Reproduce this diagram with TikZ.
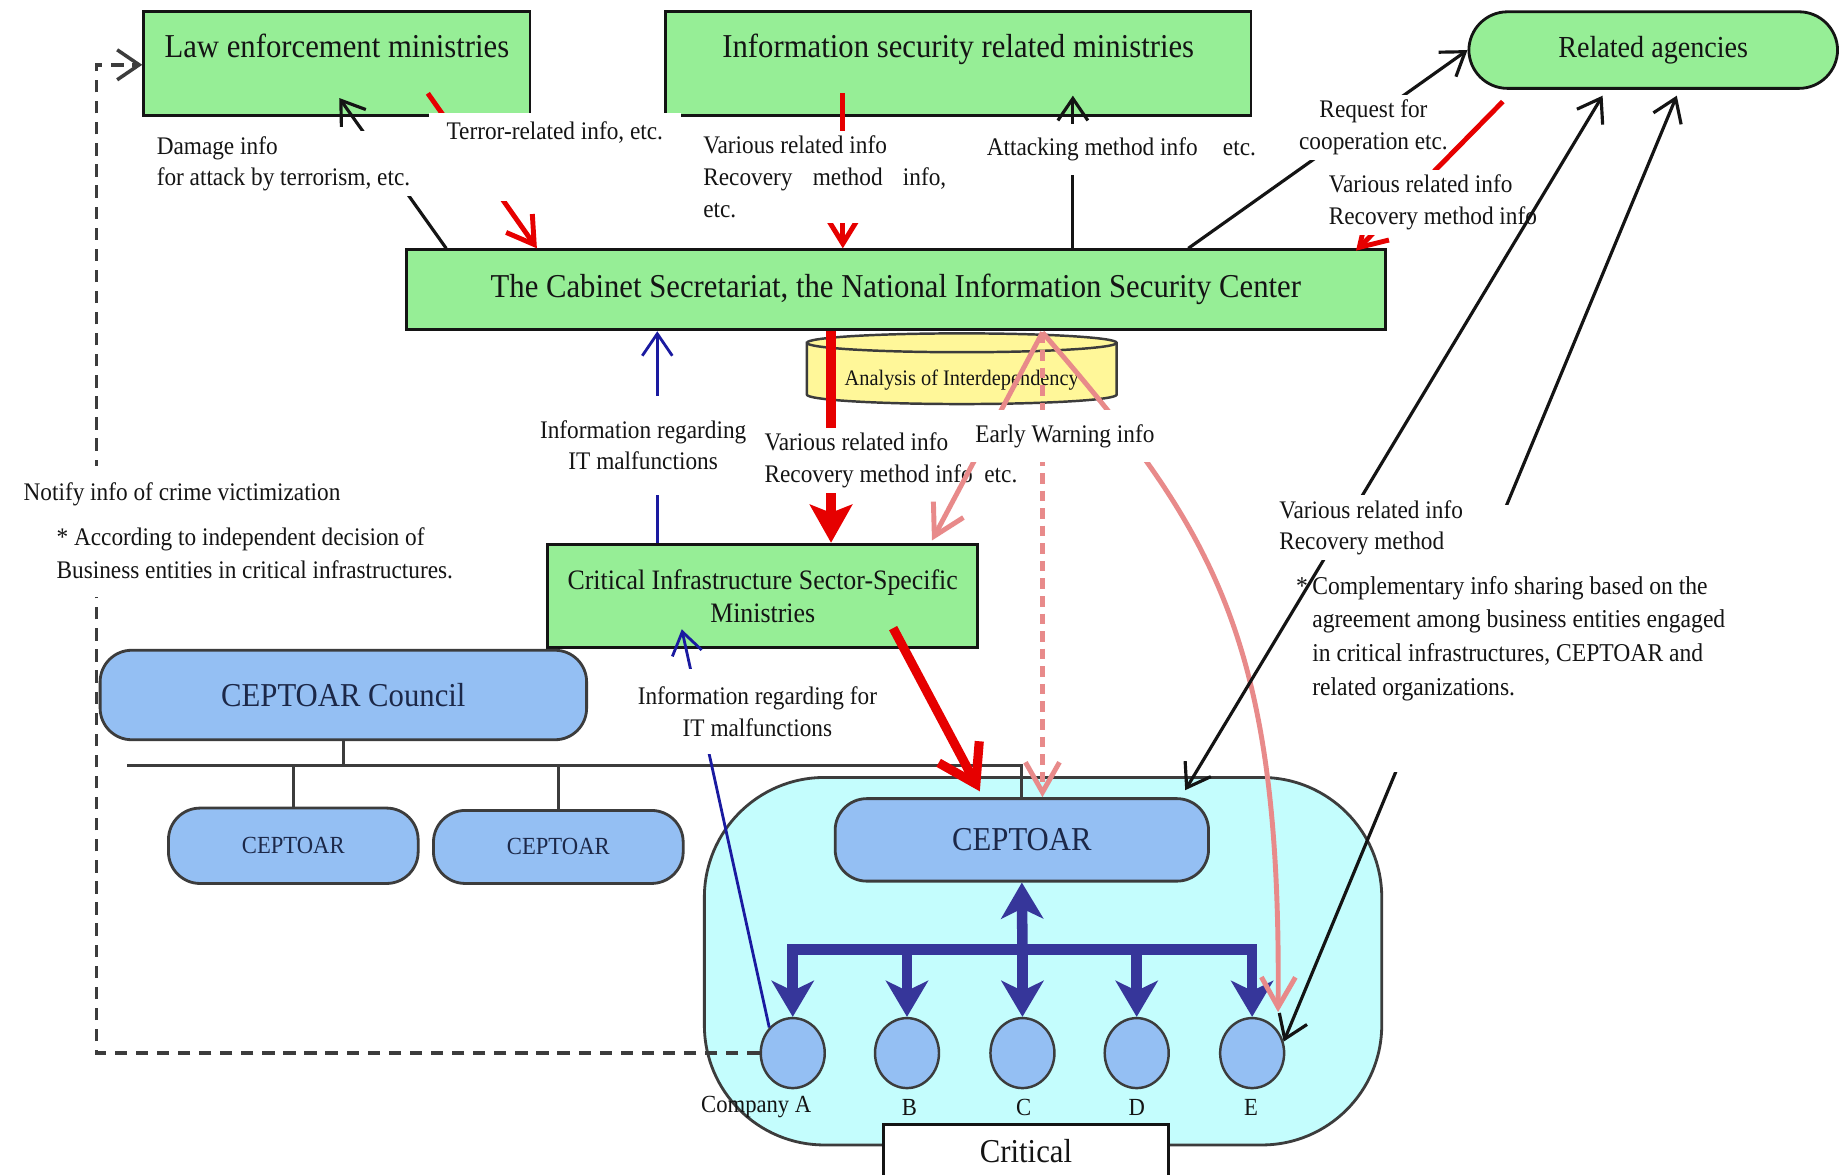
\documentclass[tikz,border=0pt]{standalone}
\usepackage{fontspec}
\setmainfont{Liberation Serif}[FakeStretch=0.92]
\usepackage{xcolor}
\usetikzlibrary{arrows.meta,positioning,calc,shapes.geometric}
\definecolor{tinta}{HTML}{141414}
\definecolor{gris}{HTML}{3C3C3C}
\definecolor{verde}{HTML}{96EE96}
\definecolor{azul}{HTML}{94BFF3}
\definecolor{cian}{HTML}{C4FDFD}
\definecolor{amarillo}{HTML}{FFF799}
\definecolor{marino}{HTML}{36369A}
\definecolor{textoAzul}{HTML}{1C2848}
\definecolor{rojo}{HTML}{E60000}
\definecolor{rosa}{HTML}{E88A8A}
\definecolor{azulLinea}{HTML}{1A1AA0}

\begin{document}
\begin{tikzpicture}[x=0.01178cm,y=-0.01178cm,
    mini/.style={draw=tinta,fill=verde,line width=0.8pt,align=center,
                 font=\fontsize{9.5}{11}\selectfont\color{tinta}},
    cept/.style={draw=gris,fill=azul,rounded corners=9pt,line width=0.8pt,
                 font=\fontsize{9.5}{11}\selectfont\color{textoAzul}},
    emp/.style={ellipse,draw=gris,fill=azul,line width=0.7pt,inner sep=0pt,
                minimum width=0.64cm,minimum height=0.70cm},
    etiq/.style={fill=white,inner sep=1.5pt,align=left,
                 font=\fontsize{7.2}{9}\selectfont\color{tinta}},
    negro/.style={draw=tinta,line width=0.9pt},
    rojoF/.style={draw=rojo,line width=1.4pt,-{Straight Barb[length=2.6mm,width=3.2mm]}},
    rojoG/.style={draw=rojo,line width=2.6pt},
    rosaF/.style={draw=rosa,line width=1.4pt,-{Straight Barb[length=3mm,width=3.4mm]}},
    azulF/.style={draw=azulLinea,line width=0.8pt,->},
    troncal/.style={draw=marino,line width=3pt,-{Stealth[length=0.36cm,width=0.42cm,inset=0.1cm]}},
    linea/.style={draw=gris,line width=0.9pt},
    >={Straight Barb[length=2.2mm,width=3mm]}]
  \fill[white] (0,0) rectangle (1568,997);
  \useasboundingbox (0,0) rectangle (1568,997);

  \node[draw=gris,fill=cian,line width=0.8pt,rounded corners=1.2cm,
        minimum width=6.774cm,minimum height=3.675cm] (zona) at (885.5,816) {};

  \node[mini,minimum width=3.864cm,minimum height=1.037cm,text depth=0.35cm]
    (ley) at (286,54) {Law enforcement ministries};
  \node[mini,minimum width=5.855cm,minimum height=1.037cm,text depth=0.35cm]
    (infosec) at (813.5,54) {Information security related ministries};
  \node[mini,rounded corners=11pt,font=\fontsize{8.7}{10}\selectfont\color{tinta},
        minimum width=3.687cm,minimum height=0.766cm] (agencias) at (1403.5,42.5) {Related agencies};

  \filldraw[fill=amarillo,draw=gris,line width=0.7pt]
    (685,291) -- (685,335) arc[start angle=180,end angle=0,x radius=131.5,y radius=8]
    -- (948,291) arc[start angle=0,end angle=-180,x radius=131.5,y radius=8] -- cycle;
  \draw[gris,line width=0.7pt] (685,291) arc[start angle=180,end angle=0,x radius=131.5,y radius=8];
  \node[font=\fontsize{6.3}{7}\selectfont\color{tinta}] (cil) at (816.5,323) {Analysis of Interdependency};

  \node[mini,minimum width=9.789cm,minimum height=0.801cm] (cab) at (760.5,246)
    {The Cabinet Secretariat, the National Information Security Center};
  \node[mini,font=\fontsize{8}{9.4}\selectfont\color{tinta},minimum width=4.3cm,
        minimum height=1.037cm] (sector) at (647.5,506)
    {Critical Infrastructure Sector-Specific\\Ministries};

  \node[cept,minimum width=4.865cm,minimum height=0.895cm] (consejo) at (291.5,590) {CEPTOAR Council};
  \node[cept,font=\fontsize{7}{8}\selectfont\color{textoAzul},minimum width=2.497cm,
        minimum height=0.754cm] (c1) at (249,718) {CEPTOAR};
  \node[cept,font=\fontsize{7}{8}\selectfont\color{textoAzul},minimum width=2.497cm,
        minimum height=0.73cm] (c2) at (474,719) {CEPTOAR};
  \node[cept,minimum width=3.734cm,minimum height=0.825cm] (ceptoar) at (867.5,713) {CEPTOAR};

  \foreach \letra/\x in {A/673,B/770,C/868,D/965,E/1063}
    \node[emp] (e\letra) at (\x,894) {};
  \node[font=\fontsize{7}{8}\selectfont\color{tinta}] (nA) at (642,940) {Company A};
  \foreach \letra/\x in {B/772,C/869,D/965,E/1062}
    \node[font=\fontsize{7}{8}\selectfont\color{tinta}] (n\letra) at (\x,940) {\letra};

  \node[draw=tinta,fill=white,line width=0.8pt,minimum width=2.851cm,minimum height=0.52cm,
        font=\fontsize{9.5}{11}\selectfont\color{tinta}] (critico) at (871,977) {Critical};

  \coordinate (bus) at (108,650);
  \draw[linea] (bus) -- (bus -| ceptoar.north) -- (ceptoar.north);
  \foreach \n/\a in {consejo/south,c1/north,c2/north}
    \draw[linea] (\n.\a) -- (\n.\a |- bus);

  \coordinate (esq) at (82,55);
  \draw[gris,line width=1pt,dash pattern=on 3.5pt off 2.5pt,->] (eA.west) -| (esq) -- (esq -| ley.west);

  \coordinate (barra) at (868,806);
  \draw[marino,line width=3pt,line cap=rect] (eA.north |- barra) -- (eE.north |- barra);
  \draw[troncal] (barra) -- (ceptoar.south);
  \foreach \letra in {A,B,C,D,E}
    \draw[troncal] (e\letra.north |- barra) -- (e\letra.north);

  \draw[negro,->] ($(cab.north west)+(35,0)$) -- ($(ley.south)+(2,-16)$);
  \draw[rojoF] ($(ley.south east)+(-88,-20)$) -- ($(cab.north west)+(112,0)$);
  \coordinate (r1) at ($(infosec.south)+(-98,-20)$);
  \draw[rojoF] (r1) -- (r1 |- cab.north);
  \coordinate (k1) at ($(cab.north west)+(567,0)$);
  \draw[negro,->] (k1) -- ($(k1 |- infosec.south)+(0,-18)$);
  \draw[negro,->] ($(cab.north west)+(665,0)$) -- (agencias.west);

  \node[etiq,anchor=west] (dano) at (128,139) {Damage info\\for attack by terrorism, etc.};
  \node[etiq,anchor=north,align=center,minimum width=2.52cm,text height=0.22cm,text depth=0.56cm]
    (terror) at (471,95) {Terror-related info, etc.};
  \node[etiq,anchor=west] (varios) at (592,150)
    {Various related info\\\makebox[2.43cm][s]{Recovery method info,}\\etc.};
  \node[etiq,inner ysep=4pt] (ataque) at (952,127) {Attacking method info\quad etc.};
  \node[etiq,align=center] (pedido) at (1166,108) {Request for\\cooperation etc.};

  \draw[rojoF] ($(agencias.south west)+(30,10)$) -- ($(cab.north east)+(-26,2)$);
  \node[etiq,anchor=west] (varios2) at (1123,172) {Various related info\\Recovery method info};

  \draw[rojoG,-{Stealth[length=0.38cm,width=0.42cm,inset=0.08cm]}]
    ($(cab.south)+(-55,0)$) -- ($(sector.north)+(58,0)$);
  \node[etiq,anchor=west] (varios3) at (644,391) {Various related info\\Recovery method info\ \ etc.};
  \coordinate (alerta0) at ($(cab.south)+(124.5,1)$);
  \draw[rosaF] (alerta0) -- ($(sector.north east)+(-40,-2)$);
  \draw[rosaF,densely dashed] (alerta0) -- (alerta0 |- ceptoar.north);
  \draw[rosaF] (alerta0) .. controls (1030,450) and (1088,540) .. ($(eE.north)+(22,-4)$);
  \node[etiq,inner ysep=4pt] (alerta) at (904,370) {Early Warning info};
  \draw[rojoG,-{Straight Barb[length=0.36cm,width=0.46cm]}]
    ($(sector.south east)+(-73,-18)$) -- ($(ceptoar.north west)+(124,-5)$);

  \coordinate (b1) at ($(sector.north)+(-89.5,0)$);
  \draw[azulF] (b1) -- (b1 |- cab.south);
  \node[etiq,align=center,inner ysep=7pt] (itA) at (546,378) {Information regarding\\IT malfunctions};
  \draw[azulF] (eA.north west) -- ($(sector.south west)+(115,-17)$);
  \node[etiq,align=center,inner ysep=5pt] (itB) at (643,604) {Information regarding for\\IT malfunctions};

  \draw[negro,<->] (eE.20) -- ($(agencias.south)+(20,5)$);
  \node[etiq,anchor=west,minimum height=2.67cm,
        font=\fontsize{7.3}{9.6}\selectfont\color{tinta}] (compl) at (1109,542)
    {\llap{*\,}Complementary info sharing based on the\\agreement among business entities engaged\\in critical infrastructures, CEPTOAR and\\related organizations.};
  \draw[negro,<->] ($(ceptoar.north east)+(-21,-6)$) -- ($(agencias.south)+(-43,5)$);
  \node[etiq,anchor=west] (varios4) at (1081,448) {Various related info\\Recovery method};

  \node[etiq,anchor=west,inner ysep=5pt] (aviso) at (15,420) {Notify info of crime victimization};
  \node[etiq,anchor=west,inner ysep=5pt,font=\fontsize{7.2}{9.4}\selectfont\color{tinta}] (acuerdo) at (43,470)
    {* According to independent decision of\\Business entities in critical infrastructures.};
\end{tikzpicture}
\end{document}
